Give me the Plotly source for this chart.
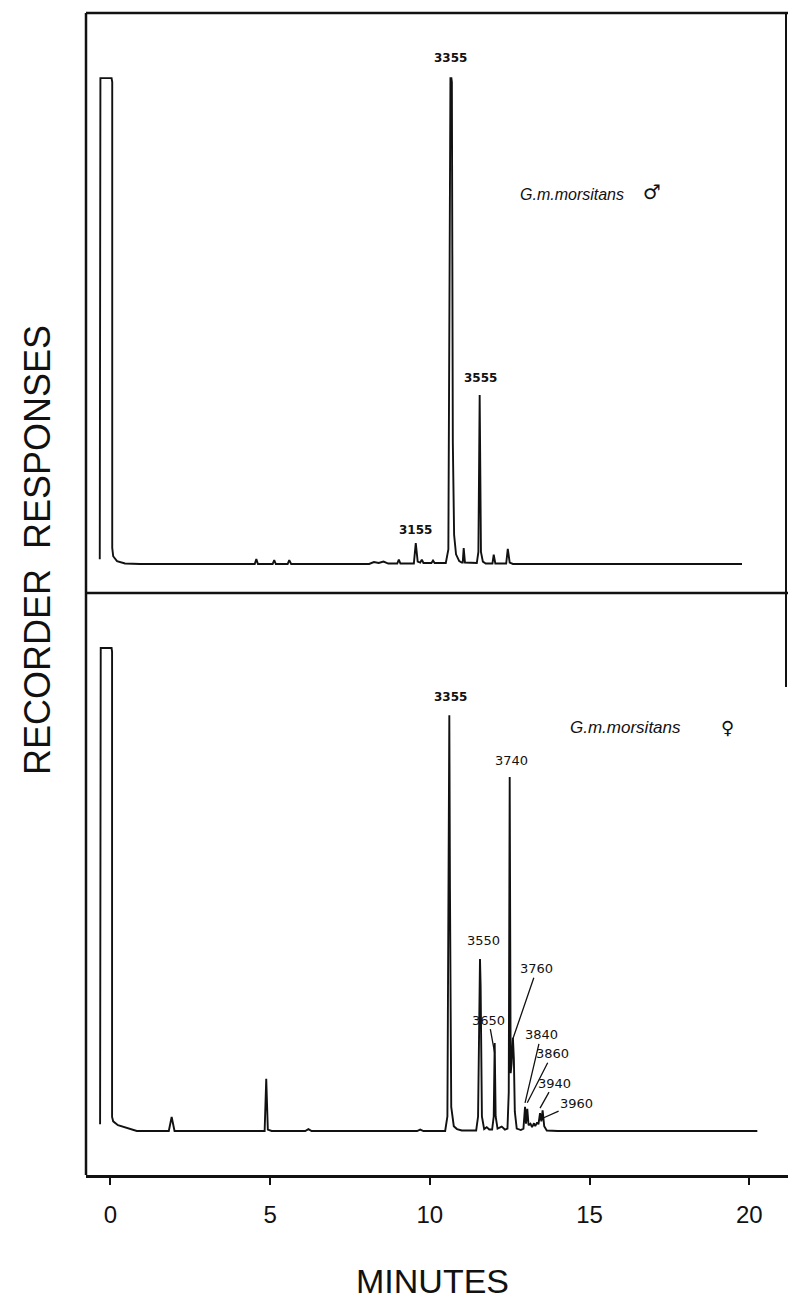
import plotly.graph_objects as go

# ---------------- data ----------------
# Upper trace: G.m. morsitans male (time in minutes, response in % of full scale)
time_male = [
    -0.33, -0.33, -0.31, 0.04, 0.06, 0.06, 0.09, 0.21, 0.46, 0.93,
    4.52, 4.57, 4.62,
    5.08, 5.13, 5.18,
    5.55, 5.60, 5.66,
    8.10, 8.25, 8.40, 8.55, 8.70,
    8.98, 9.03, 9.08,
    9.50, 9.56, 9.62, 9.70, 9.75, 9.80,
    10.05, 10.10, 10.15,
    10.50, 10.58, 10.615, 10.63, 10.645, 10.675, 10.69, 10.72, 10.76, 10.82, 10.92, 11.00,
    11.03, 11.06, 11.10,
    11.47, 11.52, 11.56, 11.60, 11.66, 11.75,
    11.96, 12.00, 12.05,
    12.39, 12.44, 12.50, 12.60,
    13.50, 19.77,
]
resp_male = [
    1.0, 99.2, 100, 100, 99.2, 3.3, 1.6, 0.6, 0.1, 0.0,
    0.0, 1.0, 0.0,
    0.0, 0.8, 0.0,
    0.0, 0.8, 0.0,
    0.0, 0.4, 0.2, 0.5, 0.1,
    0.1, 0.9, 0.1,
    0.1, 4.3, 0.5, 0.3, 0.9, 0.2,
    0.2, 0.7, 0.2,
    0.2, 3.0, 60, 99.2, 100, 100, 99.2, 25, 6, 2, 0.6, 0.3,
    0.3, 3.3, 0.3,
    0.2, 2.5, 34.8, 2.5, 0.5, 0.1,
    0.1, 1.9, 0.1,
    0.1, 3.1, 0.3, 0.0,
    0.0, 0.0,
]

# Lower trace: G.m. morsitans female
time_female = [
    -0.32, -0.32, -0.30, 0.04, 0.055, 0.055, 0.09, 0.24, 0.51, 0.83,
    1.83, 1.92, 2.01,
    4.83, 4.88, 4.93, 5.05,
    6.10, 6.20, 6.30,
    9.60, 9.70, 9.80,
    10.48, 10.55, 10.59, 10.61, 10.63, 10.67, 10.75, 10.85, 11.00,
    11.45, 11.51, 11.55, 11.57, 11.59, 11.63, 11.70, 11.78, 11.86,
    11.95, 12.00, 12.03, 12.06, 12.12, 12.25, 12.35,
    12.43, 12.47, 12.50, 12.53, 12.56, 12.60, 12.63, 12.66, 12.72, 12.85,
    12.93, 12.98, 13.01, 13.05, 13.09, 13.15, 13.20, 13.26, 13.30, 13.36,
    13.40, 13.45, 13.49, 13.53, 13.58, 13.66, 14.00, 20.25,
]
resp_female = [
    1.4, 99.2, 100, 100, 99.2, 2.9, 2.0, 1.2, 0.6, 0.0,
    0.0, 2.9, 0.0,
    0.0, 10.8, 0.3, 0.0,
    0.0, 0.4, 0.0,
    0.0, 0.3, 0.0,
    0.0, 3.0, 50, 86.1, 50, 5.0, 1.0, 0.4, 0.1,
    0.1, 3.0, 30, 35.6, 30, 3.0, 0.4, 0.8, 0.3,
    0.3, 3.0, 18.2, 3.0, 0.5, 0.9, 0.3,
    0.5, 8.0, 73.3, 12, 14, 19.3, 15, 4.0, 0.5, 0.2,
    0.5, 5.0, 1.5, 4.6, 1.2, 1.5, 0.8, 1.6, 1.0, 1.8,
    1.4, 3.7, 2.0, 4.3, 1.0, 0.1, 0.0, 0.0,
]

male_peak_labels = ["3155", "3355", "3555"]
male_peak_times = [9.56, 10.66, 11.56]
male_peak_heights = [4.3, 100, 34.8]

female_peak_labels = ["3355", "3550", "3650", "3740", "3760", "3840", "3860", "3940", "3960"]
female_peak_times = [10.61, 11.57, 12.03, 12.50, 12.60, 12.98, 13.05, 13.45, 13.53]
female_peak_heights = [86.1, 35.6, 18.2, 73.3, 19.3, 5.0, 4.6, 3.7, 4.3]

x_tick_values = [0, 5, 10, 15, 20]
x_tick_labels = ["0", "5", "10", "15", "20"]

# ---------------- layout constants ----------------
W, H = 788, 1304
ML, MR, MT, MB = 86, 0, 13, 129
PW, PH = W - ML - MR, H - MT - MB
SPLIT = 582 / PH                      # lower panel height fraction
X_RANGE = [-0.761, 21.21]
Y_RANGE_LOW = [-9.11, 111.4]
Y_RANGE_TOP = [-5.97, 113.4]
PX_PER_UNIT_LOW = 582 / (Y_RANGE_LOW[1] - Y_RANGE_LOW[0])
INK = "#111111"

fig = go.Figure()
fig.add_trace(go.Scatter(x=time_male, y=resp_male, mode="lines",
                         line=dict(color=INK, width=1.9), xaxis="x2", yaxis="y2",
                         hoverinfo="skip", showlegend=False))
fig.add_trace(go.Scatter(x=time_female, y=resp_female, mode="lines",
                         line=dict(color=INK, width=1.9), xaxis="x", yaxis="y",
                         hoverinfo="skip", showlegend=False))

annotations = []

# plain labels above peaks (label: (x shift px, y shift px, bold))
plain_style = {
    ("m", "3155"): (0, 13, True),
    ("m", "3355"): (0, 20, True),
    ("m", "3555"): (1, 17, True),
    ("f", "3355"): (1, 18, True),
    ("f", "3550"): (4, 19, False),
    ("f", "3740"): (2, 17, False),
}
# arrowed labels (label: (ax px, ay px, head drop below peak tip px))
arrow_style = {
    "3650": (-6, -33, 10),
    "3760": (24, -70, 1),
    "3840": (16, -68, -4),
    "3860": (25, -49, -6),
    "3940": (14, -25, -5),
    "3960": (34, -15, 8),
}

for lab, t, h in zip(male_peak_labels, male_peak_times, male_peak_heights):
    dx, dy, bold = plain_style[("m", lab)]
    annotations.append(dict(x=t, y=h, xref="x2", yref="y2", text=f"<b>{lab}</b>" if bold else lab,
                            showarrow=False, xshift=dx, yshift=dy, yanchor="middle",
                            font=dict(family="DejaVu Sans", size=12, color=INK)))

for lab, t, h in zip(female_peak_labels, female_peak_times, female_peak_heights):
    if ("f", lab) in plain_style:
        dx, dy, bold = plain_style[("f", lab)]
        annotations.append(dict(x=t, y=h, xref="x", yref="y", text=f"<b>{lab}</b>" if bold else lab,
                                showarrow=False, xshift=dx, yshift=dy, yanchor="middle",
                                font=dict(family="DejaVu Sans", size=13 if not bold else 12, color=INK)))
    else:
        ax, ay, drop = arrow_style[lab]
        annotations.append(dict(x=t, y=h - drop / PX_PER_UNIT_LOW, xref="x", yref="y", text=lab,
                                showarrow=True, arrowhead=0, arrowwidth=1.3, arrowcolor=INK,
                                ax=ax, ay=ay, standoff=0,
                                font=dict(family="DejaVu Sans", size=13, color=INK)))

# species labels
annotations += [
    dict(x=(518 - ML) / PW, y=(H - MB - 194) / PH, xref="paper", yref="paper",
         text="<i>G.m.morsitans</i>", showarrow=False, xanchor="left", yanchor="middle",
         font=dict(family="Liberation Sans", size=16, color=INK)),
    dict(x=(652 - ML) / PW, y=(H - MB - 192) / PH, xref="paper", yref="paper",
         text="♂", showarrow=False, xanchor="center", yanchor="middle",
         font=dict(family="DejaVu Sans", size=20, color=INK)),
    dict(x=(568 - ML) / PW, y=(H - MB - 727) / PH, xref="paper", yref="paper",
         text="<i>G.m.morsitans</i>", showarrow=False, xanchor="left", yanchor="middle",
         font=dict(family="Liberation Sans", size=17, color=INK)),
    dict(x=(727 - ML) / PW, y=(H - MB - 727) / PH, xref="paper", yref="paper",
         text="<b>♀</b>", showarrow=False, xanchor="center", yanchor="middle",
         font=dict(family="DejaVu Sans", size=18, color=INK)),
    # axis titles
    dict(x=(37 - ML) / PW, y=(H - MB - 550) / PH, xref="paper", yref="paper",
         text="RECORDER  RESPONSES", textangle=-90, showarrow=False,
         xanchor="center", yanchor="middle",
         font=dict(family="Liberation Sans", size=36, color=INK)),
    dict(x=(432 - ML) / PW, y=(H - MB - 1281) / PH, xref="paper", yref="paper",
         text="MINUTES", showarrow=False, xanchor="center", yanchor="middle",
         font=dict(family="Liberation Sans", size=34, color=INK)),
]

frame = dict(color=INK, width=2.5)
shapes = [
    dict(type="line", xref="paper", yref="paper", x0=0, x1=0, y0=0, y1=1, line=frame),
    dict(type="line", xref="paper", yref="paper", x0=0, x1=1, y0=1, y1=1, line=frame),
    dict(type="line", xref="paper", yref="paper", x0=0, x1=1, y0=SPLIT, y1=SPLIT, line=frame),
    dict(type="line", xref="paper", yref="paper", x0=(786 - ML) / PW, x1=(786 - ML) / PW,
         y0=(H - MB - 687) / PH, y1=1, line=dict(color=INK, width=2)),
]

fig.update_layout(
    width=W, height=H, margin=dict(l=ML, r=MR, t=MT, b=MB),
    paper_bgcolor="white", plot_bgcolor="white", showlegend=False,
    xaxis=dict(domain=[0, 1], range=X_RANGE, anchor="y", showgrid=False, zeroline=False,
               showline=True, linecolor=INK, linewidth=2.5, ticks="outside", ticklen=7,
               tickwidth=2, tickcolor=INK, tickvals=x_tick_values, ticktext=x_tick_labels,
               tickfont=dict(family="Liberation Sans", size=24, color=INK),
               ticklabelstandoff=9),
    xaxis2=dict(domain=[0, 1], range=X_RANGE, anchor="y2", matches="x", visible=False),
    yaxis=dict(domain=[0, SPLIT], range=Y_RANGE_LOW, visible=False),
    yaxis2=dict(domain=[SPLIT, 1], range=Y_RANGE_TOP, visible=False),
    annotations=annotations, shapes=shapes,
)

fig.write_html("out.html")
